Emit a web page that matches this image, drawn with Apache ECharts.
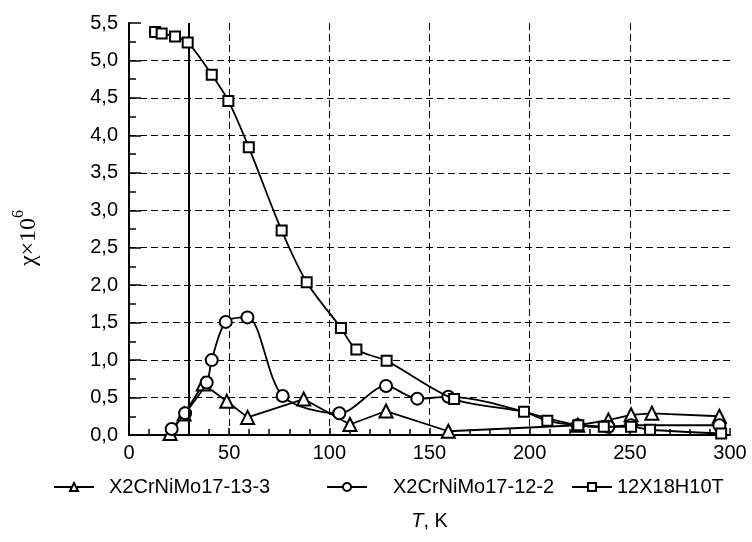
<!DOCTYPE html>
<html>
<head>
<meta charset="utf-8">
<script src="https://cdn.jsdelivr.net/npm/echarts@6/dist/echarts.min.js"></script>
<style>html,body{margin:0;padding:0;background:#fff;}#c{width:752px;height:542px;}</style>
</head>
<body>
<div id="c"></div>
<script>
// ---- data ----
const seriesNames = ['X2CrNiMo17-13-3', 'X2CrNiMo17-12-2', '12X18H10T'];

const triT = [20.5, 27.5, 37.1, 48.8, 59.2, 87.2, 110.3, 128.3, 159.4, 224, 239.3, 250.6, 261, 294.7];
const triV = [0.02, 0.28, 0.68, 0.45, 0.235, 0.48, 0.14, 0.32, 0.05, 0.13, 0.20, 0.27, 0.29, 0.25];

const cirT = [21.3, 28, 38.8, 41.3, 48.3, 59.1, 76.7, 105, 128.3, 143.9, 159.4, 224, 239.3, 250.6, 294.7];
const cirV = [0.08, 0.29, 0.70, 1.00, 1.51, 1.57, 0.52, 0.29, 0.655, 0.485, 0.51, 0.13, 0.11, 0.13, 0.13];

const sqT = [13, 16.3, 23, 29.3, 41.3, 49.6, 59.8, 76.2, 88.7, 105.8, 113.5, 128.6, 162.3, 197.2, 208.8, 224.3, 237, 250.6, 260.1, 295.6];
const sqV = [5.38, 5.36, 5.32, 5.24, 4.81, 4.46, 3.84, 2.73, 2.04, 1.43, 1.14, 0.99, 0.48, 0.31, 0.19, 0.13, 0.11, 0.11, 0.07, 0.02];

const verticalLineT = 29.7;

const xTicks = { min: 0, max: 300, interval: 50 };
const yTicks = { min: 0, max: 5.5, interval: 0.5 };

function zip(a, b) { return a.map((t, i) => [t, b[i]]); }

const chart = echarts.init(document.getElementById('c'), null, { renderer: 'canvas' });

const FONT = 'Liberation Sans, Arial, sans-serif';
const SERIF = 'Liberation Serif, Times New Roman, serif';
const markerStyle = { color: '#fff', borderColor: '#000', borderWidth: 2 };
const lineStyle = { color: '#000', width: 1.8 };

function legendAt(name, left, padLeft) {
  return {
    data: [name], left: left, top: 477, padding: 0,
    itemWidth: 40, itemHeight: 10,
    textStyle: { fontFamily: FONT, fontSize: 20, color: '#000', padding: [0, 0, 0, padLeft] }
  };
}

chart.setOption({
  animation: false,
  backgroundColor: '#fff',
  grid: { left: 129, right: 22, top: 23, bottom: 107, containLabel: false },
  legend: [
    legendAt(seriesNames[0], 53, 10),
    legendAt(seriesNames[1], 326, 21),
    legendAt(seriesNames[2], 571, 0)
  ],
  xAxis: {
    type: 'value', min: xTicks.min, max: xTicks.max, interval: xTicks.interval,
    name: '{i|T}{n|, K}', nameLocation: 'middle', nameGap: 76,
    nameTextStyle: {
      rich: {
        i: { fontFamily: FONT, fontSize: 20, fontStyle: 'italic', color: '#000' },
        n: { fontFamily: FONT, fontSize: 20, color: '#000' }
      }
    },
    axisLine: { show: true, onZero: false, lineStyle: { color: '#000', width: 2 } },
    axisTick: { show: true, inside: true, length: 7, lineStyle: { color: '#000', width: 1.5 } },
    minorTick: { show: true, splitNumber: 5, length: 6, lineStyle: { color: '#000', width: 1.5 } },
    axisLabel: { fontFamily: FONT, fontSize: 20, color: '#000', margin: 8 },
    splitLine: { show: true, showMinLine: false, showMaxLine: false,
      lineStyle: { color: '#000', width: 1, type: [7, 4] } }
  },
  yAxis: {
    type: 'value', min: yTicks.min, max: yTicks.max, interval: yTicks.interval,
    name: '{a|χ×10}{s|6}', nameLocation: 'middle', nameGap: 88, nameRotate: 90,
    nameTextStyle: {
      padding: [0, 18, 0, 0],
      rich: {
        a: { fontFamily: SERIF, fontSize: 24, color: '#000', lineHeight: 30, verticalAlign: 'bottom' },
        s: { fontFamily: SERIF, fontSize: 16, color: '#000', lineHeight: 30, verticalAlign: 'top' }
      }
    },
    axisLine: { show: true, onZero: false, lineStyle: { color: '#000', width: 2 } },
    axisTick: { show: true, inside: true, length: 12, lineStyle: { color: '#000', width: 1.5 } },
    minorTick: { show: true, splitNumber: 2, length: 7, lineStyle: { color: '#000', width: 1.5 } },
    axisLabel: { fontFamily: FONT, fontSize: 20, color: '#000', margin: 11,
      formatter: v => v.toFixed(1).replace('.', ',') },
    splitLine: { show: true, showMinLine: false, showMaxLine: false,
      lineStyle: { color: '#000', width: 1, type: [7, 4] } }
  },
  series: [
    {
      name: seriesNames[0], type: 'line', data: zip(triT, triV),
      symbol: 'triangle', symbolSize: 13, smooth: false,
      lineStyle: lineStyle, itemStyle: markerStyle, z: 3
    },
    {
      name: seriesNames[1], type: 'line', data: zip(cirT, cirV),
      symbol: 'circle', symbolSize: 12, smooth: 0.3,
      lineStyle: lineStyle, itemStyle: markerStyle, z: 4
    },
    {
      name: seriesNames[2], type: 'line', data: zip(sqT, sqV),
      symbol: 'rect', symbolSize: 10, smooth: 0.3,
      lineStyle: lineStyle, itemStyle: markerStyle, z: 5,
      markLine: {
        silent: true, symbol: 'none', label: { show: false },
        lineStyle: { color: '#000', width: 2, type: 'solid' },
        data: [{ xAxis: verticalLineT }]
      }
    }
  ]
});
</script>
</body>
</html>
